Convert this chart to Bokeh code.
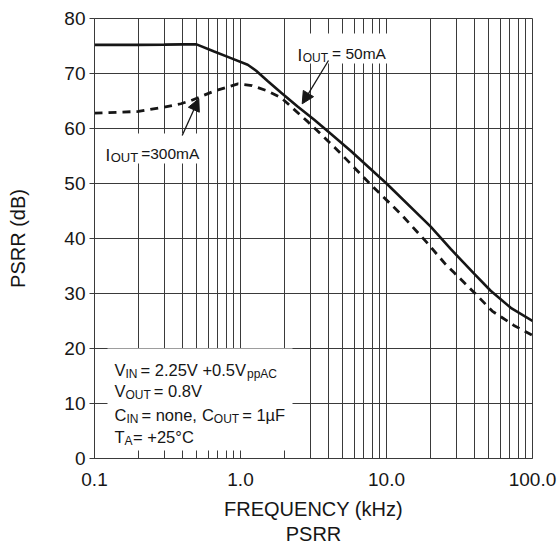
from bokeh.plotting import figure
from bokeh.models import (FixedTicker, PrintfTickFormatter, Label, BoxAnnotation,
                          Arrow, NormalHead, Range1d)
from bokeh.embed import file_html
from bokeh.resources import INLINE

# ---- data ----
freq_50 = [0.1, 0.2, 0.3, 0.4, 0.5, 0.66, 0.86, 1.12, 1.28, 1.54, 1.9, 2.46,
           3.2, 4.17, 5.7, 10.0, 20.0, 27.5, 39.8, 51.7, 71.0, 100.0]
psrr_50 = [75.2, 75.2, 75.25, 75.3, 75.3, 74.0, 72.8, 71.6, 70.5, 68.6, 66.5, 64.0,
           61.6, 59.0, 55.9, 50.0, 42.2, 38.1, 33.6, 30.5, 27.4, 25.0]

freq_300 = [0.1, 0.2, 0.3, 0.39, 0.46, 0.66, 0.96, 1.2, 1.54, 1.9, 2.3, 2.9,
            3.55, 4.4, 5.0, 8.0, 12.6, 19.0, 25.4, 29.0, 39.8, 53.0, 74.6, 100.0]
psrr_300 = [62.8, 63.1, 63.9, 64.5, 65.1, 66.8, 68.1, 67.8, 66.8, 65.6, 63.6, 61.2,
            59.0, 56.6, 55.1, 49.5, 44.4, 39.2, 35.3, 33.8, 30.2, 26.8, 24.2, 22.4]

x_major = [0.1, 1.0, 10.0, 100.0]
y_ticks = [0, 10, 20, 30, 40, 50, 60, 70, 80]
x_grid = [m * 10.0 ** e for e in (-1, 0, 1) for m in range(1, 10)] + [100.0]

FONT = "Liberation Sans"
INK = "#161616"
GRID = "#3a3a3a"

# page-pixel -> data helpers for annotation placement (frame: x 94..532, y 18..458)
def fx(px):
    return 10 ** (-1 + 3 * (px - 94) / (532 - 94))

def fy(py):
    return 80 * (458 - py) / (458 - 18)

# Arial / Liberation Sans advance widths (per 1000 em)
W = {"I": 278, "O": 778, "U": 722, "T": 611, "=": 584, " ": 278, "m": 833, "A": 667,
     "V": 667, "N": 722, ".": 278, "+": 584, "p": 556, "C": 722, "n": 556, "o": 556,
     "e": 556, ",": 278, "µ": 576, "F": 611, "°": 400}
def tw(s, size):
    return sum(W.get(c, 556) for c in s) * size / 1000.0

p = figure(width=560, height=548, x_axis_type="log",
           x_range=Range1d(0.1, 100), y_range=Range1d(0, 80),
           output_backend="svg", toolbar_location=None,
           min_border_left=94, min_border_right=28,
           min_border_top=18, min_border_bottom=90)

p.outline_line_color = GRID
p.outline_line_width = 1
p.background_fill_color = "white"
p.border_fill_color = "white"

# grids
p.xgrid.ticker = FixedTicker(ticks=x_grid)
p.xgrid.grid_line_color = GRID
p.xgrid.grid_line_width = 1
p.ygrid.ticker = FixedTicker(ticks=y_ticks)
p.ygrid.grid_line_color = GRID
p.ygrid.grid_line_width = 1

# x axis
p.xaxis.ticker = FixedTicker(ticks=x_major)
p.xaxis.formatter = PrintfTickFormatter(format="%.1f")
p.xaxis.major_tick_out = 0
p.xaxis.major_tick_in = 0
p.xaxis.minor_tick_out = 0
p.xaxis.minor_tick_in = 0
p.xaxis.major_label_standoff = 14
p.xaxis.axis_label = "FREQUENCY (kHz)\nPSRR"
p.xaxis.axis_label_standoff = 9
p.xaxis.axis_label_text_line_height = 1.15

# y axis
p.yaxis.ticker = FixedTicker(ticks=y_ticks)
p.yaxis.major_tick_out = 5
p.yaxis.major_tick_in = 0
p.yaxis.minor_tick_out = 0
p.yaxis.minor_tick_in = 0
p.yaxis.major_label_standoff = 4
p.yaxis.axis_label = "PSRR (dB)"
p.yaxis.axis_label_standoff = 32

for ax in (p.xaxis[0], p.yaxis[0]):
    ax.axis_line_color = GRID
    ax.major_tick_line_color = GRID
    ax.major_label_text_font = FONT
    ax.major_label_text_font_size = "19px"
    ax.major_label_text_color = INK
    ax.axis_label_text_font = FONT
    ax.axis_label_text_font_size = "20px"
    ax.axis_label_text_font_style = "normal"
    ax.axis_label_text_color = INK

# curves
p.line(freq_50, psrr_50, line_width=2.6, line_color=INK)
p.line(freq_300, psrr_300, line_width=2.8, line_color=INK, line_dash="8 6")

# white annotation boxes (hide grid behind text)
for (l, r, t, b) in [(292, 392, 33, 63), (101, 204, 133, 163), (107, 292, 348, 450)]:
    p.add_layout(BoxAnnotation(left=fx(l), right=fx(r), top=fy(t), bottom=fy(b),
                               fill_color="white", fill_alpha=1.0, line_alpha=0.0))

# arrows
for (x0, y0, x1, y1) in [(328, 60, 301.7, 103.3), (181.7, 135, 198.3, 98.3)]:
    p.add_layout(Arrow(x_start=fx(x0), y_start=fy(y0), x_end=fx(x1), y_end=fy(y1),
                       line_color=INK, line_width=1.3,
                       end=NormalHead(size=12, fill_color=INK, line_color=INK, line_width=1)))

# text lines: start px, baseline px, runs of (text, font px, baseline shift px, gap px)
M, S = 16.5, 12
lines = [
    (297, 53.3, [("I", 17, 1.7, 0), ("OUT", 12, 4.0, 0.5), ("= 50mA", 15.5, 0, 4)]),
    (105, 152.7, [("I", 17, 2.0, 0), ("OUT", 13, 4.0, 0.5), ("=300mA", 15.5, 0, 3)]),
    (114, 369.3, [("V", M, 0, 0), ("IN", S, 4, 0), ("= 2.25V +0.5V", M, 0, 3), ("ppAC", S, 4, 1)]),
    (114, 390.7, [("V", M, 0, 0), ("OUT", S, 4, 0), ("= 0.8V", M, 0, 3)]),
    (114, 414.0, [("C", M, 0, 0), ("IN", S, 4, 0), ("= none,", M, 0, 3),
                  ("C", M, 0, 5), ("OUT", S, 4, 0), ("= 1µF", M, 0, 3)]),
    (114, 436.0, [("T", M, 0, 0), ("A", S, 4, 0), ("= +25°C", M, 0, 0.5)]),
]
for (x0, base, runs) in lines:
    cx = x0
    for (txt, fs, dy, gap) in runs:
        cx += gap
        p.add_layout(Label(x=fx(cx), y=fy(base + dy), text=txt, text_font=FONT,
                           text_font_size=f"{fs}px", text_color=INK,
                           text_align="left", text_baseline="alphabetic"))
        cx += tw(txt, fs)

open("out.html", "w").write(file_html(p, INLINE))
